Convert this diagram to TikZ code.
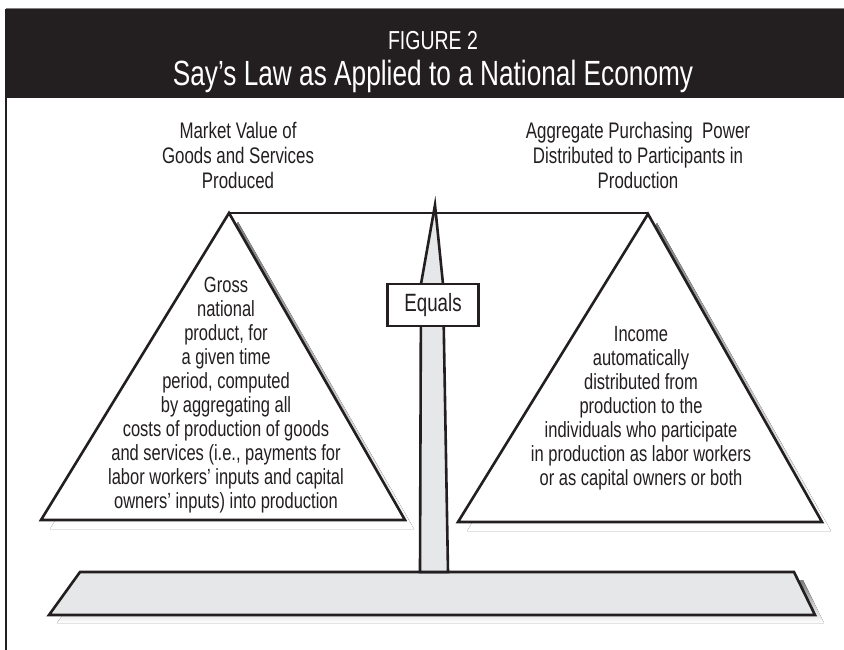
\documentclass[tikz,border=0pt]{standalone}
\usepackage{fontspec}
\setmainfont{Liberation Sans}[FakeStretch=0.75]
\definecolor{ink}{HTML}{231F20}
\definecolor{shade}{HTML}{BCBEC0}
\definecolor{pale}{HTML}{E6E7E8}
\tikzset{
  outline/.style={draw=ink, line width=2.6pt, line join=miter},
  body/.style={font=\fontsize{22}{24}\selectfont, align=center, inner sep=0pt, text=ink},
  toplabel/.style={font=\fontsize{22.5}{25}\selectfont, align=center, inner sep=0pt, text=ink},
}
\begin{document}
\begin{tikzpicture}[x=1pt,y=-1pt]
\useasboundingbox (0,0) rectangle (844,650);
\fill[white] (0,0) rectangle (844,650);
% header
\fill[ink] (6,9) rectangle (844,98);
\draw[gray, line width=1pt] (6,9) -- (844,9);
\draw[ink, line width=1.2pt] (6,9) -- (6,650);
\node[font=\fontsize{26}{28}\selectfont, text=white, anchor=base, inner sep=0pt] (fig) at (433,50) {FIGURE 2};
\node[font=\fontsize{35}{38}\selectfont, text=white, anchor=base, inner sep=0pt] (title) at (433,86) {Say’s Law as Applied to a National Economy};
% top labels
\node[toplabel, anchor=north] (lefthead) at (238,122) {Market Value of\\Goods and Services\\Produced};
\node[toplabel, anchor=north] (righthead) at (638,122) {Aggregate Purchasing\ \ Power\\Distributed to Participants in\\Production};
% beam
\draw[ink, line width=2.6pt] (229,213) -- (648,213);
% platform
\fill[shade] (88,580) -- (803,580) -- (824,623) -- (57,623) -- cycle;
\draw[outline, fill=pale] (80,572) -- (794,572) -- (815,615) -- (49,615) -- cycle;
% pole
\draw[outline, fill=pale] (435,205) -- (421,284) -- (420,572) -- (448,572) -- (443,284) -- cycle;
% triangle shadows
\fill[shade] (238,222) -- (414,529) -- (50,529) -- cycle;
\fill[shade] (657,223) -- (831,531) -- (467,531) -- cycle;
% triangles
\draw[outline, fill=white] (229,213) -- (405,520) -- (41,520) -- cycle;
\draw[outline, fill=white] (648,214) -- (822,522) -- (458,522) -- cycle;
% equals box
\node[outline, fill=white, minimum width=91pt, minimum height=42pt, inner sep=0pt,
      font=\fontsize{25}{27}\selectfont, text=ink] (equals) at (433,305) {Equals};
% triangle texts
\node[body, anchor=north] (gnp) at (226,277) {Gross\\national\\product, for\\a given time\\period, computed\\by aggregating all\\costs of production of goods\\and services (i.e., payments for\\labor workers’ inputs and capital\\owners’ inputs) into production};
\node[body, anchor=north] (income) at (641,326) {Income\\automatically\\distributed from\\production to the\\individuals who participate\\in production as labor workers\\or as capital owners or both};
\end{tikzpicture}
\end{document}
